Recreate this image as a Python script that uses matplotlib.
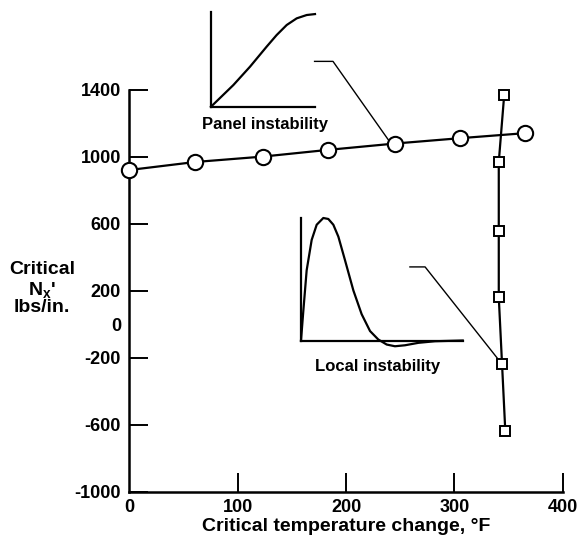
import matplotlib
matplotlib.use("Agg")
import matplotlib.pyplot as plt

plt.rcParams['font.family'] = ['Liberation Sans', 'DejaVu Sans']
plt.rcParams['font.weight'] = 'bold'
plt.rcParams['mathtext.fontset'] = 'custom'
plt.rcParams['mathtext.rm'] = 'Liberation Sans:bold'
plt.rcParams['mathtext.bf'] = 'Liberation Sans:bold'
plt.rcParams['mathtext.it'] = 'Liberation Sans:bold'
plt.rcParams['mathtext.default'] = 'bf'

# ---- data ----
panel_T = [0, 61, 123, 183, 245, 305, 365]
panel_N = [922, 970, 1002, 1042, 1080, 1112, 1142]

local_T = [346, 341, 341, 341, 344, 347]
local_N = [1370, 970, 555, 162, -235, -635]

x_ticks = [0, 100, 200, 300, 400]
y_ticks = [1400, 1000, 600, 200, 0, -200, -600, -1000]
y_tick_labels = ['1400', '1000', '600', '200', '0', '-200', '-600', '-1000']

# schematic inset curves (normalized coordinates)
panel_curve_x = [0, 0.215, 0.375, 0.535, 0.631, 0.728, 0.824, 0.92, 1.0]
panel_curve_y = [0, 0.228, 0.421, 0.632, 0.754, 0.86, 0.93, 0.965, 0.975]

local_curve_x = [0, 0.0144, 0.035, 0.066, 0.097, 0.138, 0.169, 0.2, 0.231, 0.272,
                 0.324, 0.375, 0.427, 0.478, 0.53, 0.581, 0.643, 0.726, 0.829, 1.0]
local_curve_y = [0, 0.242, 0.573, 0.821, 0.945, 1.0, 0.992, 0.945, 0.848, 0.656,
                 0.408, 0.215, 0.077, 0.008, -0.033, -0.047, -0.039, -0.019, -0.006, 0.0]

# leader lines (data coords)
panel_leader_T = [171, 188, 239]
panel_leader_N = [1571, 1571, 1103]
local_leader_T = [259, 273, 340]
local_leader_N = [343, 343, -205]

W, H = 582, 554
fig = plt.figure(figsize=(W / 100, H / 100), dpi=100)

def fx(px):
    return px / W

def fy(py):
    return 1 - py / H

x0, x1 = 129.3, 562.7
yt, yb = 90.0, 491.7
ax = fig.add_axes([fx(x0), fy(yb), fx(x1) - fx(x0), fy(yt) - fy(yb)])
ax.set_xlim(0, 400)
ax.set_ylim(-1000, 1400)

for s in ['top', 'right']:
    ax.spines[s].set_visible(False)
for s in ['left', 'bottom']:
    ax.spines[s].set_linewidth(1.8)

ax.set_xticks(x_ticks)
ax.set_xticklabels([str(v) for v in x_ticks])
ax.set_yticks(y_ticks)
ax.set_yticklabels(y_tick_labels)
ax.tick_params(axis='both', direction='in', length=14, width=1.4, labelsize=13, pad=5)
ax.tick_params(axis='y', pad=6)
for lab in ax.get_xticklabels() + ax.get_yticklabels():
    lab.set_fontweight('bold')
for t, v in zip(ax.yaxis.get_major_ticks(), y_ticks):
    if v == 0:
        t.tick1line.set_visible(False)
for t, v in zip(ax.xaxis.get_major_ticks(), x_ticks):
    if v == 0:
        t.tick1line.set_visible(False)

ax.plot(panel_T, panel_N, color='black', lw=1.6, marker='o', ms=11,
        mfc='white', mec='black', mew=1.5, clip_on=False, zorder=4)
ax.plot(local_T, local_N, color='black', lw=1.6, marker='s', ms=7,
        mfc='white', mec='black', mew=1.4, clip_on=False, zorder=4)

ax.plot(panel_leader_T, panel_leader_N, color='black', lw=1.0, clip_on=False, zorder=3)
ax.plot(local_leader_T, local_leader_N, color='black', lw=1.0, clip_on=False, zorder=3)

ax.set_xlabel('Critical temperature change, °F', fontsize=14, fontweight='bold', labelpad=2)

fig.text(fx(42), fy(270), 'Critical', ha='center', va='center', fontsize=14, fontweight='bold')
fig.text(fx(42), fy(290), "N$_x$'", ha='center', va='center', fontsize=14, fontweight='bold')
fig.text(fx(42), fy(308), 'lbs/in.', ha='center', va='center', fontsize=14, fontweight='bold')

# Panel instability inset
pa = fig.add_axes([fx(211), fy(106.7), fx(315) - fx(211), fy(11.7) - fy(106.7)])
pa.set_xlim(0, 1)
pa.set_ylim(0, 1)
pa.axis('off')
pa.plot([0, 0], [0, 1], color='black', lw=1.6, clip_on=False)
pa.plot([0, 1], [0, 0], color='black', lw=1.6, clip_on=False)
pa.plot(panel_curve_x, panel_curve_y, color='black', lw=1.6, clip_on=False,
        solid_joinstyle='round')
fig.text(fx(265), fy(125), 'Panel instability', ha='center', va='center', fontsize=12, fontweight='bold')

# Local instability inset
la = fig.add_axes([fx(301), fy(340.5), fx(462.7) - fx(301), fy(218) - fy(340.5)])
la.set_xlim(0, 1)
la.set_ylim(0, 1)
la.axis('off')
la.plot([0, 0], [0, 1], color='black', lw=1.6, clip_on=False)
la.plot([0, 1], [0, 0], color='black', lw=1.6, clip_on=False)
la.plot(local_curve_x, local_curve_y, color='black', lw=1.6, clip_on=False,
        solid_joinstyle='round')
fig.text(fx(377.5), fy(366.5), 'Local instability', ha='center', va='center', fontsize=12, fontweight='bold')

fig.savefig('out.png', dpi=100)
